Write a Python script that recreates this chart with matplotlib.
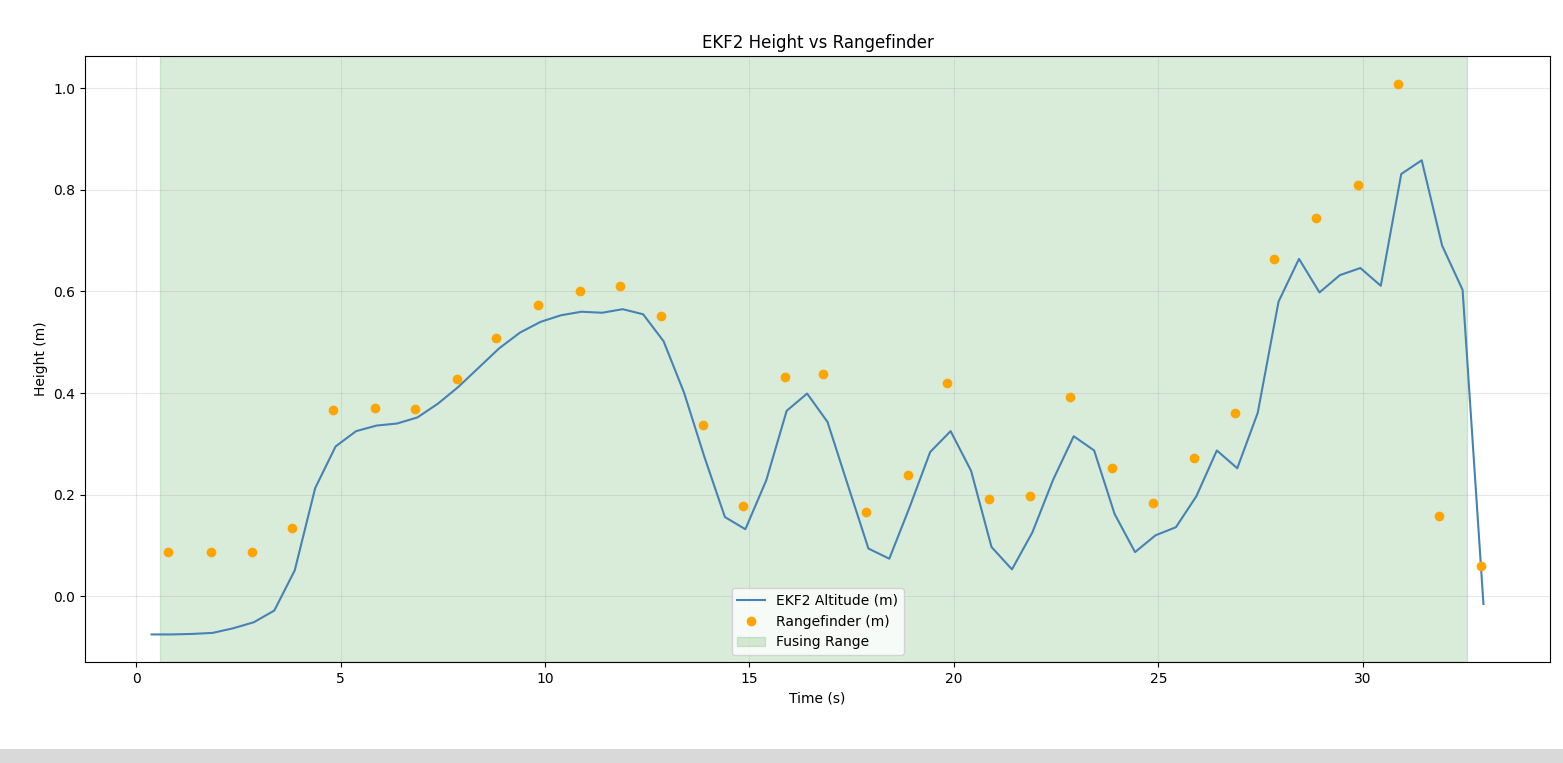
import matplotlib
matplotlib.use("Agg")
import matplotlib.pyplot as plt
from matplotlib.patches import Rectangle

ekf_time = [0.38, 0.87, 1.37, 1.87, 2.37, 2.88, 3.38, 3.88, 4.38, 4.88, 5.38, 5.88,
            6.38, 6.88, 7.38, 7.88, 8.38, 8.88, 9.39, 9.89, 10.39, 10.89, 11.40, 11.90,
            12.40, 12.90, 13.40, 13.90, 14.40, 14.90, 15.41, 15.91, 16.41, 16.91, 17.41,
            17.91, 18.42, 18.92, 19.42, 19.92, 20.42, 20.92, 21.42, 21.92, 22.43, 22.93,
            23.43, 23.93, 24.43, 24.93, 25.43, 25.93, 26.43, 26.93, 27.43, 27.94, 28.44,
            28.94, 29.44, 29.94, 30.44, 30.94, 31.44, 31.94, 32.44, 32.95]
ekf_alt = [-0.075, -0.075, -0.074, -0.072, -0.063, -0.051, -0.028, 0.051, 0.213, 0.295,
           0.325, 0.336, 0.340, 0.352, 0.379, 0.412, 0.450, 0.488, 0.519, 0.540, 0.553,
           0.560, 0.558, 0.565, 0.555, 0.502, 0.401, 0.274, 0.156, 0.132, 0.228, 0.365,
           0.399, 0.343, 0.218, 0.094, 0.074, 0.176, 0.284, 0.325, 0.247, 0.097, 0.053,
           0.126, 0.230, 0.315, 0.287, 0.162, 0.087, 0.120, 0.136, 0.197, 0.287, 0.252,
           0.361, 0.580, 0.664, 0.598, 0.632, 0.646, 0.611, 0.831, 0.858, 0.690, 0.603,
           -0.015]

rf_time = [0.79, 1.82, 2.84, 3.82, 4.82, 5.85, 6.82, 7.85, 8.80, 9.83, 10.85, 11.83,
           12.83, 13.86, 14.84, 15.86, 16.81, 17.84, 18.87, 19.82, 20.85, 21.87, 22.85,
           23.86, 24.87, 25.86, 26.88, 27.84, 28.86, 29.89, 30.86, 31.87, 32.89]
rf_dist = [0.088, 0.088, 0.088, 0.135, 0.366, 0.371, 0.369, 0.428, 0.509, 0.574, 0.600,
           0.610, 0.551, 0.338, 0.177, 0.432, 0.438, 0.165, 0.238, 0.419, 0.191, 0.198,
           0.392, 0.252, 0.183, 0.273, 0.361, 0.664, 0.745, 0.810, 1.009, 0.159, 0.059]

fuse_start, fuse_end = 0.59, 32.56

fig = plt.figure(figsize=(15.63, 7.63), dpi=100)
ax = fig.add_axes([0.0544, 0.1324, 0.9373, 0.7942])

ax.plot(ekf_time, ekf_alt, color="steelblue", linewidth=1.5, label="EKF2 Altitude (m)")
ax.plot(rf_time, rf_dist, linestyle="none", marker="o", color="orange",
        markersize=6, label="Rangefinder (m)")
ax.axvspan(fuse_start, fuse_end, color="green", alpha=0.15, label="Fusing Range")

ax.set_title("EKF2 Height vs Rangefinder")
ax.set_xlabel("Time (s)")
ax.set_ylabel("Height (m)")
ax.grid(True, alpha=0.3)
ax.legend(loc="lower center")

fig.patches.append(Rectangle((0, 0), 1, 14 / 763, transform=fig.transFigure,
                             facecolor="#d9d9d9", edgecolor="none", zorder=-1))

fig.savefig("out.png", dpi=100)
